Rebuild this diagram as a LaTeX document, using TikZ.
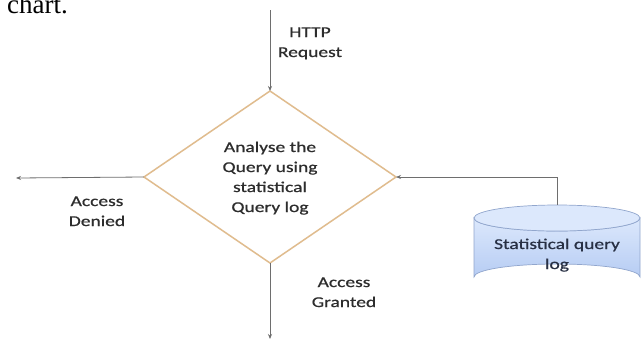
\documentclass[tikz,border=0pt]{standalone}
\usepackage{fontspec}
\setmainfont{Carlito}[FakeBold=0.6]
\newfontfamily\serifchart{Liberation Serif}
\usetikzlibrary{shapes.geometric,arrows.meta}
\definecolor{linegray}{RGB}{110,110,110}
\definecolor{txtgray}{RGB}{45,45,45}
\definecolor{diaedge}{RGB}{224,188,142}
\definecolor{cyltop}{RGB}{220,232,252}
\definecolor{cylbot}{RGB}{182,204,243}
\definecolor{cyledge}{RGB}{145,166,205}
\definecolor{cyltxt}{RGB}{40,48,68}
\newcommand\widetxt[1]{\scalebox{1.3}[1]{\fontsize{15}{20}\selectfont\begin{tabular}{@{}c@{}}#1\end{tabular}}}
\tikzset{
  conn/.style={draw=linegray, line width=0.8pt, -{Stealth[length=5pt,width=4pt]}},
  lbl/.style={text=txtgray, inner sep=0pt, align=center},
  decision/.style={diamond, draw=diaedge, line width=1.5pt, fill=white, minimum width=252pt, minimum height=172pt, inner sep=0pt, outer sep=0pt},
}
\begin{document}
\begin{tikzpicture}[x=1pt,y=-1pt]
\useasboundingbox (0,0) rectangle (644,341);
\clip (0,0) rectangle (644,341);
\fill[white] (0,0) rectangle (644,341);
% fragment of surrounding text
\node[anchor=base west, inner sep=0pt, font=\serifchart\fontsize{27}{30}\selectfont] (chart) at (7,13) {chart.};
% decision
\node[decision] (dec) at (270,177) {};
\node[lbl] (dectxt) at (270,178) {\widetxt{Analyse the\\Query using\\statistical\\Query log}};
% database cylinder
\coordinate (dbtop) at (557,205);
\path[top color=cyltop, bottom color=cylbot, draw=cyledge, line width=0.7pt]
  (474,218) -- (474,277) arc[start angle=180, end angle=360, x radius=83, y radius=13]
  -- (640,218) arc[start angle=0, end angle=180, x radius=83, y radius=13] -- cycle;
\draw[fill=cyltop, draw=cyledge, line width=0.7pt] (557,218) ellipse[x radius=83, y radius=13];
\node[lbl, text=cyltxt] (db) at (557,255) {\widetxt{Statistical query\\log}};
% connectors
\coordinate (topstart) at (270,10);
\coordinate (deniedend) at (16,178);
\coordinate (grantedend) at (270,339);
\coordinate (corner) at (557,177);
\draw[conn] (topstart) -- (dec.north);
\draw[conn] (dec.west) -- (deniedend);
\draw[conn] (dec.south) -- (grantedend);
\draw[conn] (dbtop) -- (corner) -- (dec.east);
% labels
\node[lbl] (http) at (310,43) {\widetxt{HTTP\\Request}};
\node[lbl] (denied) at (97,212) {\widetxt{Access\\Denied}};
\node[lbl] (granted) at (344,293) {\widetxt{Access\\Granted}};
\end{tikzpicture}
\end{document}
